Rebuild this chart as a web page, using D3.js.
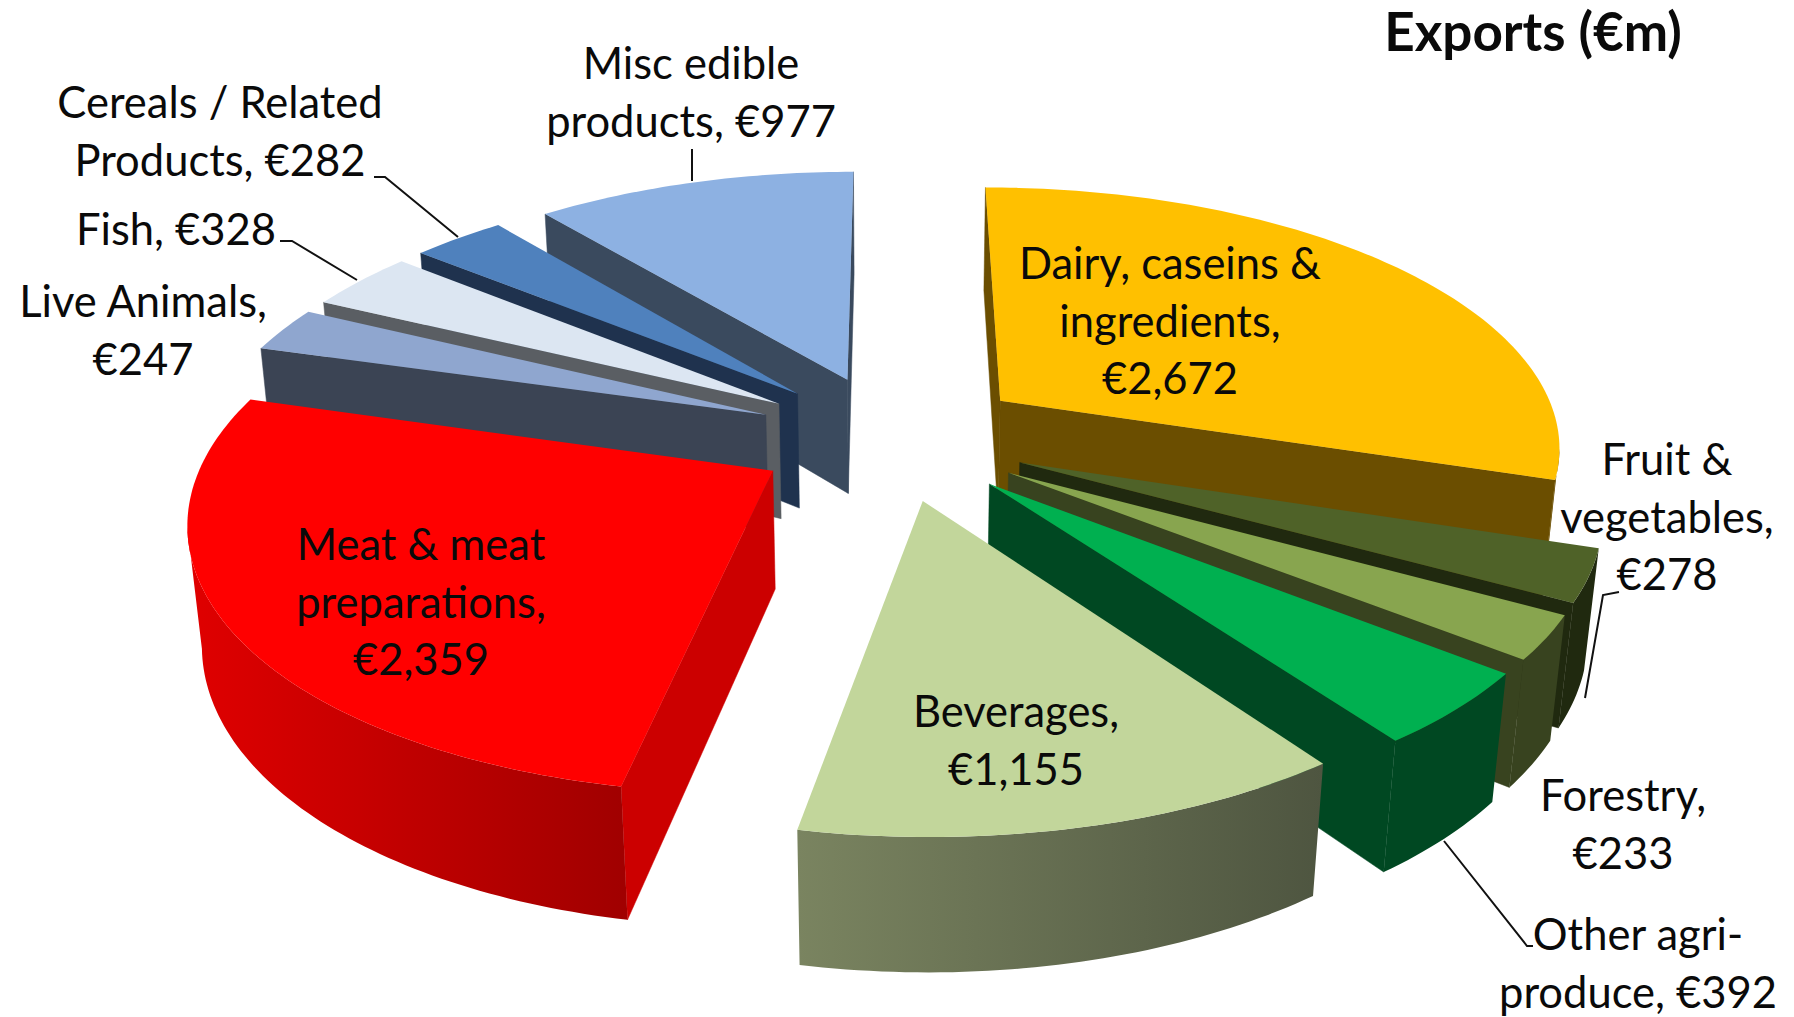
<!DOCTYPE html>
<html><head><meta charset="utf-8">
<script src="https://cdn.jsdelivr.net/npm/d3@7/dist/d3.min.js"></script>
<style>html,body{margin:0;padding:0;background:#fff}svg{display:block}text{font-family:Lato,"Open Sans",sans-serif;fill:#0a0a0a}</style>
</head><body><svg id="c" width="1794" height="1017"></svg>
<script>
const categories=["Dairy, caseins & ingredients","Fruit & vegetables","Forestry","Other agri-produce","Beverages","Meat & meat preparations","Live Animals","Fish","Cereals / Related Products","Misc edible products"];
const values=[2672,278,233,392,1155,2359,247,328,282,977];
const labelLines=[["Dairy, caseins &","ingredients,","€2,672"],["Fruit &","vegetables,","€278"],["Forestry,","€233"],["Other agri-","produce, €392"],["Beverages,","€1,155"],["Meat & meat","preparations,","€2,359"],["Live Animals,","€247"],["Fish, €328"],["Cereals / Related","Products, €282"],["Misc edible","products, €977"]];
const topColors=["#ffc000","#4f6228","#88a54f","#00b050","#c2d69b","#ff0000","#8fa6cf","#dce6f2","#4f81bd","#8db1e2"];
const wallColors=["#6b4e00","#20290f","#38431f","#004822","#5c6547","#cc0000","#3b4454","#5a5e63","#1f324e","#3a4a5e"];
const arcLight=["#6b4e00","#20290f","#38431f","#004822","#7a8460","#e00000","#3b4454","#5a5e63","#1f324e","#3a4a5e"];
const arcDark=["#6b4e00","#20290f","#38431f","#004822","#4e5540","#a00000","#3b4454","#5a5e63","#1f324e","#3a4a5e"];
const labelPos=[[1170,279],[1667,475],[1623,811],[1638,950],[1016,727],[421,560],[143,317],[176,245],[220,118],[691,79]];
const leaders=[[[692,149],[692,181]],[[374,177],[385,177],[458,237]],[[280,241],[292,241],[357,280]],[[1619,592],[1603,595],[1585,698]],[[1444,841],[1527,946],[1533,946]]];

const R=562,EX=137,H=134,D=3090,T=Math.asin(0.46),CX=892,CY=437;
function project(X,Y,Z){
  const xc=X, yc=Z*Math.cos(T)-Y*Math.sin(T), zc=D-(Y*Math.cos(T)+Z*Math.sin(T));
  return [CX+D*xc/zc, CY-D*yc/zc];
}
const svg=d3.select("#c"), defs=svg.append("defs");
const arcs=d3.pie().sort(null).value(d=>d).startAngle(0).endAngle(2*Math.PI)(values);
const line=d3.line();
const poly=p=>line(p)+"Z";
const area=p=>d3.polygonArea(p); // d3 sign: positive = anticlockwise on screen
const order=d3.range(arcs.length).sort((a,b)=>{
  const m=i=>(arcs[i].startAngle+arcs[i].endAngle)/2;
  return Math.cos(m(b))-Math.cos(m(a));
});
order.forEach(i=>{
  const a=arcs[i], mid=(a.startAngle+a.endAngle)/2;
  const ox=EX*Math.sin(mid), oy=-EX*Math.cos(mid);
  const rim=(t,z)=>project(ox+R*Math.sin(t),oy-R*Math.cos(t),z);
  const apex=z=>project(ox,oy,z);
  const g=svg.append("g").attr("class","slice");
  const n=Math.max(6,Math.ceil((a.endAngle-a.startAngle)*180/Math.PI));
  const ts=d3.range(n+1).map(k=>a.startAngle+(a.endAngle-a.startAngle)*k/n);
  const q0=[apex(0),rim(a.startAngle,0),rim(a.startAngle,-H),apex(-H)];
  const q1=[apex(0),rim(a.endAngle,0),rim(a.endAngle,-H),apex(-H)];
  if(area(q0)>0) g.append("path").attr("d",poly(q0)).attr("fill",wallColors[i]).attr("stroke",wallColors[i]).attr("stroke-width",.5);
  if(area(q1)<0) g.append("path").attr("d",poly(q1)).attr("fill",wallColors[i]).attr("stroke",wallColors[i]).attr("stroke-width",.5);
  const vis=ts.filter((t,k)=>{
    const p=rim(t,0), nb=k<n?rim(ts[k+1],0):null, pv=k>0?rim(ts[k-1],0):null;
    return (nb&&nb[0]<p[0])||(pv&&p[0]<pv[0]);
  });
  if(vis.length>1){
    const id="arc"+i;
    const grad=defs.append("linearGradient").attr("id",id);
    grad.append("stop").attr("offset","0%").attr("stop-color",arcLight[i]);
    grad.append("stop").attr("offset","100%").attr("stop-color",arcDark[i]);
    const pts=vis.map(t=>rim(t,0)).concat(vis.slice().reverse().map(t=>rim(t,-H)));
    g.append("path").attr("d",poly(pts)).attr("fill",`url(#${id})`);
  }
  const top=[apex(0)].concat(ts.map(t=>rim(t,0)));
  g.append("path").attr("d",poly(top)).attr("fill",topColors[i]);
});
svg.append("g").selectAll("path").data(leaders).join("path").attr("d",d=>line(d)).attr("fill","none").attr("stroke","#111").attr("stroke-width",2);
const FS=43.5, LH=57.5;
const lg=svg.append("g").attr("font-size",FS).attr("text-anchor","middle");
labelLines.forEach((ls,i)=>{
  const t=lg.append("text").attr("x",labelPos[i][0]).attr("y",labelPos[i][1]);
  ls.forEach((s,k)=>t.append("tspan").attr("x",labelPos[i][0]).attr("y",labelPos[i][1]+k*LH).text(s));
});
svg.append("text").attr("x",1533).attr("y",51).attr("text-anchor","middle").attr("font-size",53).attr("font-weight",700).text("Exports (€m)");
</script></body></html>
